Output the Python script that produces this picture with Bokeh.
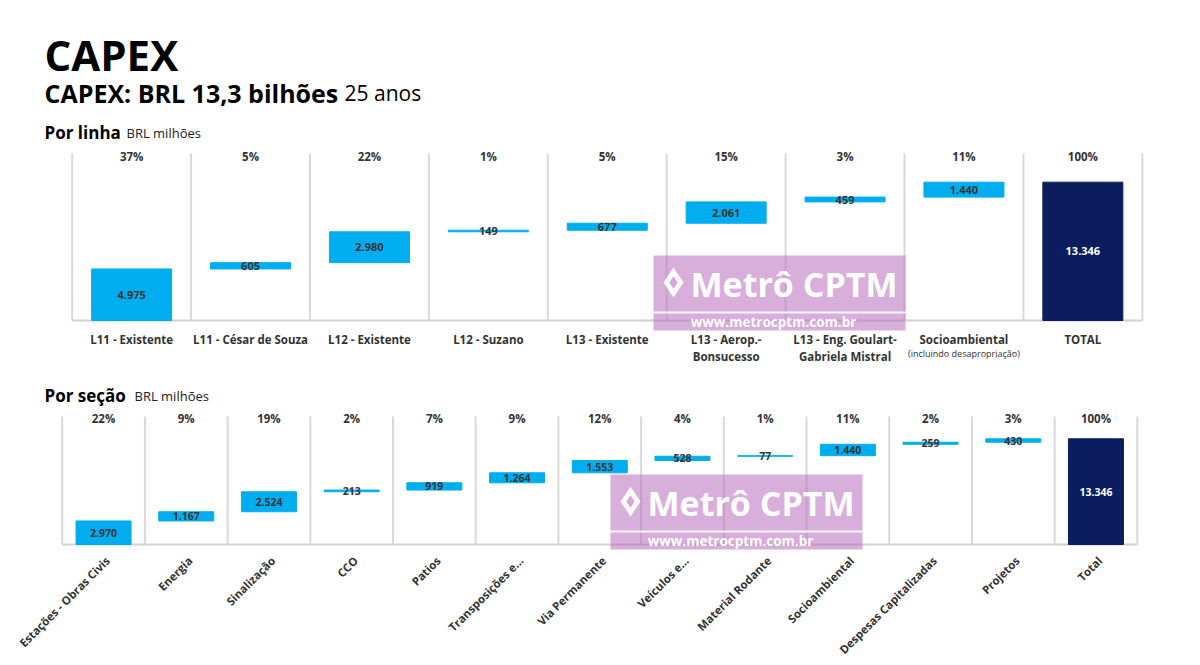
import numpy as np
from bokeh.plotting import figure
from bokeh.models import Range1d
from bokeh.core.properties import value
from bokeh.embed import file_html
from bokeh.resources import INLINE

# ---------------- data ----------------
linha_cats = ["L11 - Existente", "L11 - César de Souza", "L12 - Existente", "L12 - Suzano",
              "L13 - Existente", "L13 - Aerop.-\nBonsucesso", "L13 - Eng. Goulart-\nGabriela Mistral",
              "Socioambiental", "TOTAL"]
linha_notes = ["", "", "", "", "", "", "", "(incluindo desapropriação)", ""]
linha_vals = [4975, 605, 2980, 149, 677, 2061, 459, 1440]
linha_total = 13346
linha_pct = ["37%", "5%", "22%", "1%", "5%", "15%", "3%", "11%", "100%"]

secao_cats = ["Estações - Obras Civis", "Energia", "Sinalização", "CCO", "Patios",
              "Transposições e...", "Via Permanente", "Veículos e...", "Material Rodante",
              "Socioambiental", "Despesas Capitalizadas", "Projetos", "Total"]
secao_vals = [2970, 1167, 2524, 213, 919, 1264, 1553, 528, 77, 1440, 259, 430]
secao_total = 13346
secao_pct = ["22%", "9%", "19%", "2%", "7%", "9%", "12%", "4%", "1%", "11%", "2%", "3%", "100%"]

# ---------------- style ----------------
FONT = "Open Sans"
BLUE = "#00AEEF"
NAVY = "#0B1D5E"
DARK = "#333333"
GRID = "#D9D9D9"
W, H = 1184, 664


def fmt(v):
    return f"{v:,}".replace(",", ".")


# one canvas; default ranges are in page pixels (y downwards)
p = figure(width=W, height=H, x_range=Range1d(0, W), y_range=Range1d(H, 0),
           output_backend="svg", toolbar_location=None, min_border=0,
           x_axis_location=None, y_axis_location=None)
p.grid.visible = False
p.outline_line_color = None
p.background_fill_color = "white"
p.border_fill_color = "white"


def T(x, y, s, size, bold=False, color="black", align="left", baseline="alphabetic", **kw):
    p.text(x=x if isinstance(x, (list, np.ndarray)) else [x],
           y=y if isinstance(y, (list, np.ndarray)) else [y],
           text=s if isinstance(s, list) else [s], text_font=value(FONT),
           text_font_style="bold" if bold else "normal", text_font_size=size,
           text_color=color, text_align=align, text_baseline=baseline, **kw)


# ---------------- header ----------------
T(44, 54, "CAPEX", "42px", bold=True)
T(44, 92, "CAPEX: BRL 13,3 bilhões", "25px", bold=True)
T(344, 92, "25 anos", "21px")
T(44, 132, "Por linha", "17px", bold=True)
T(126, 132, "BRL milhões", "13px", color="#222222")
T(44, 395, "Por seção", "17px", bold=True)
T(134, 395, "BRL milhões", "13px", color="#222222")


def chart(name, vals, total, pct, sep_left, cat_w, base_y, px_per_unit, bar_px,
          sep_top, pct_y, vsize):
    n = len(vals) + 1
    # category scale and value scale of this chart, placed on the page
    p.extra_x_ranges[name + "x"] = Range1d((0 - sep_left) / cat_w - 0.5, (W - sep_left) / cat_w - 0.5)
    p.extra_y_ranges[name + "y"] = Range1d(-(H - base_y) / px_per_unit, base_y / px_per_unit)
    kx = dict(x_range_name=name + "x")
    kxy = dict(x_range_name=name + "x", y_range_name=name + "y")
    top_val = (base_y - sep_top) / px_per_unit
    xs = np.arange(n)
    v = np.array(vals, dtype=float)
    bottoms = np.concatenate([[0], np.cumsum(v)[:-1]])
    tops = bottoms + v
    # separators and baseline
    sx = np.arange(n + 1) - 0.5
    p.segment(x0=sx, y0=np.zeros(n + 1), x1=sx, y1=np.full(n + 1, top_val),
              line_color=GRID, line_width=2, **kxy)
    p.segment(x0=[-0.5], y0=[0], x1=[n - 0.5], y1=[0], line_color="#D0D0D0", line_width=2, **kxy)
    # bars
    p.vbar(x=xs[:-1], bottom=bottoms, top=tops, width=bar_px / cat_w, fill_color=BLUE,
           line_color=BLUE, line_width=1, **kxy)
    p.vbar(x=[n - 1], bottom=[0], top=[total], width=bar_px / cat_w, fill_color=NAVY,
           line_color=NAVY, **kxy)
    # value labels
    p.text(x=xs[:-1], y=(bottoms + tops) / 2, text=[fmt(int(a)) for a in vals],
           text_font=value(FONT), text_font_style="bold", text_font_size=vsize,
           text_color=DARK, text_align="center", text_baseline="middle", **kxy)
    p.text(x=[n - 1], y=[total / 2], text=[fmt(total)], text_font=value(FONT),
           text_font_style="bold", text_font_size=vsize, text_color="white",
           text_align="center", text_baseline="middle", **kxy)
    # percentages
    p.text(x=xs, y=np.full(n, pct_y), text=pct, text_font=value(FONT), text_font_style="bold",
           text_font_size="11.5px", text_color=DARK, text_align="center",
           text_baseline="middle", **kx)
    return kx


def watermark(left, top):
    p.quad(left=[left], right=[left + 252], top=[top], bottom=[top + 75],
           fill_color="#B86BBB", fill_alpha=0.55, line_color=None)
    p.segment(x0=[left], y0=[top + 57], x1=[left + 252], y1=[top + 57],
              line_color="white", line_width=2, line_alpha=0.9)
    p.scatter(x=[left + 20], y=[top + 27], marker="diamond", size=30,
              fill_color="white", line_color=None)
    p.scatter(x=[left + 20], y=[top + 27], marker="diamond", size=16,
              fill_color="#D7A5D8", line_color="white", line_width=2)
    T(left + 37, top + 28, "Metrô CPTM", "34px", bold=True, color="white", baseline="middle")
    T(left + 120, top + 66, "www.metrocptm.com.br", "13.5px", bold=True, color="white",
      align="center", baseline="middle")


# ---------------- chart 1: por linha ----------------
kx1 = chart("c1", linha_vals, linha_total, linha_pct, 71.7, 118.9, 320.0, 138.3 / 13346,
            80, 153, 155.5, "11px")
n1 = len(linha_cats)
l1 = [c.split("\n")[0] for c in linha_cats]
l2 = [c.split("\n")[1] if "\n" in c else "" for c in linha_cats]
p.text(x=np.arange(n1), y=np.full(n1, 339), text=l1, text_font=value(FONT),
       text_font_style="bold", text_font_size="11.5px", text_color=DARK,
       text_align="center", text_baseline="middle", **kx1)
p.text(x=np.arange(n1), y=np.full(n1, 356), text=l2, text_font=value(FONT),
       text_font_style="bold", text_font_size="11.5px", text_color=DARK,
       text_align="center", text_baseline="middle", **kx1)
p.text(x=np.arange(n1), y=np.full(n1, 352.5), text=linha_notes, text_font=value(FONT),
       text_font_size="9px", text_color=DARK, text_align="center", text_baseline="middle", **kx1)
watermark(653, 255)

# ---------------- chart 2: por seção ----------------
CW2 = 82.7
kx2 = chart("c2", secao_vals, secao_total, secao_pct, 61.7, CW2, 544.0, 105.7 / 13346,
            55, 416, 418, "10.5px")
n2 = len(secao_cats)
p.text(x=np.arange(n2) + 4 / CW2, y=np.full(n2, 558), text=secao_cats,
       text_font=value(FONT), text_font_style="bold", text_font_size="11.4px",
       text_color=DARK, text_align="right", text_baseline="middle", angle=np.pi / 4, **kx2)
watermark(610, 474)

open("out.html", "w").write(file_html(p, INLINE))
